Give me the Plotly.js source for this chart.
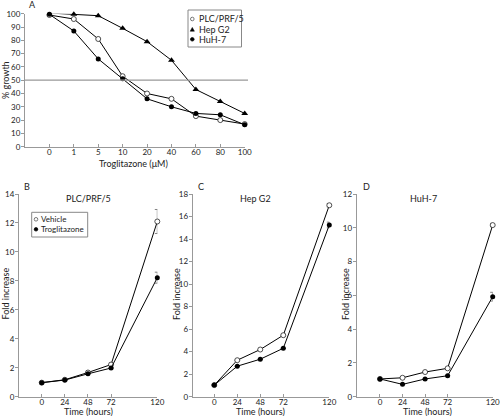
<!DOCTYPE html>
<html><head><meta charset="utf-8">
<script src="https://cdn.plot.ly/plotly-3.0.1.min.js"></script>
<style>body{margin:0;padding:0;background:#fff}#chart{width:500px;height:416px}</style>
</head><body><div id="chart"></div>
<script>
// Panel A: dose response
const doseLabels = ['0','1','5','10','20','40','60','80','100'];
const plcGrowth  = [99, 96, 81, 53, 40, 36, 23, 20, 17];
const hepGrowth  = [100.5, 99.5, 98.5, 89, 79, 65, 43, 34, 25];
const huhGrowth  = [99.5, 87, 66, 51, 36, 30, 25, 24, 16.5];
const halfLine = 50;
const legendA = ['PLC/PRF/5', 'Hep G2', 'HuH-7'];

// Panels B-D: time course
const hours = [0, 24, 48, 72, 120];
const plcVehicle = [0.97, 1.17, 1.67, 2.22, 12.1];
const plcVehicleErr = [0, 0, 0, 0, 0.83];
const plcTrog = [0.97, 1.15, 1.58, 1.98, 8.22];
const plcTrogErr = [0, 0, 0, 0, 0.38];
const hepVehicle = [1.03, 3.24, 4.19, 5.46, 17.0];
const hepVehicleErr = [0, 0, 0, 0, 0.15];
const hepTrog = [1.03, 2.71, 3.33, 4.3, 15.25];
const hepTrogErr = [0, 0, 0, 0, 0.25];
const huhVehicle = [1.05, 1.12, 1.46, 1.68, 10.16];
const huhVehicleErr = [0, 0, 0, 0, 0.1];
const huhTrog = [1.05, 0.73, 1.05, 1.24, 5.92];
const huhTrogErr = [0, 0, 0, 0, 0.26];
const legendB = ['Vehicle', 'Troglitazone'];

const FONT = 'Lato, "Open Sans", sans-serif';
const TXT = '#222';
const AX = '#999';
const openM = {symbol:'circle', size:5, color:'#fff', line:{color:'#222', width:0.8}};
const fillM = {symbol:'circle', size:5, color:'#000'};
const triM  = {symbol:'triangle-up', size:6, color:'#000'};
const ln = {color:'#000', width:1};
const eb = arr => ({type:'data', array:arr, visible:true, color:'#666', thickness:0.8, width:2.5});

const traces = [
  {x:doseLabels, y:plcGrowth, name:legendA[0], mode:'lines+markers', line:ln, marker:openM, xaxis:'x', yaxis:'y', cliponaxis:false},
  {x:doseLabels, y:hepGrowth, name:legendA[1], mode:'lines+markers', line:ln, marker:triM, xaxis:'x', yaxis:'y', cliponaxis:false},
  {x:doseLabels, y:huhGrowth, name:legendA[2], mode:'lines+markers', line:ln, marker:fillM, xaxis:'x', yaxis:'y', cliponaxis:false},

  {x:hours, y:plcVehicle, name:legendB[0], error_y:eb(plcVehicleErr), mode:'lines+markers', line:ln, marker:openM, xaxis:'x2', yaxis:'y2', cliponaxis:false},
  {x:hours, y:plcTrog, name:legendB[1], error_y:eb(plcTrogErr), mode:'lines+markers', line:ln, marker:fillM, xaxis:'x2', yaxis:'y2', cliponaxis:false},

  {x:hours, y:hepVehicle, name:legendB[0], error_y:eb(hepVehicleErr), mode:'lines+markers', line:ln, marker:openM, xaxis:'x3', yaxis:'y3', cliponaxis:false},
  {x:hours, y:hepTrog, name:legendB[1], error_y:eb(hepTrogErr), mode:'lines+markers', line:ln, marker:fillM, xaxis:'x3', yaxis:'y3', cliponaxis:false},

  {x:hours, y:huhVehicle, name:legendB[0], error_y:eb(huhVehicleErr), mode:'lines+markers', line:ln, marker:openM, xaxis:'x4', yaxis:'y4', cliponaxis:false},
  {x:hours, y:huhTrog, name:legendB[1], error_y:eb(huhTrogErr), mode:'lines+markers', line:ln, marker:fillM, xaxis:'x4', yaxis:'y4', cliponaxis:false}
];

const W = 500, H = 416;
const px = v => v / W, py = v => (H - v) / H;
const xBase = {showline:true, linecolor:AX, linewidth:1, ticks:'inside', ticklen:3, tickcolor:AX, showgrid:false, zeroline:false, tickfont:{size:8, color:TXT}, ticklabeloverflow:'allow', ticklabelstandoff:-2};
const yBase = {showline:true, linecolor:AX, linewidth:1, ticks:'outside', ticklen:3, tickcolor:AX, showgrid:false, zeroline:false, tickfont:{size:8, color:TXT}, ticklabeloverflow:'allow', ticklabelstandoff:-1};
const timeTicks = {tickmode:'array', tickvals:hours, ticktext:hours.map(String)};

const ann = (text, x, y, opts={}) => Object.assign({text, xref:'paper', yref:'paper', x:px(x), y:py(y), xanchor:'center', yanchor:'middle', showarrow:false, font:{size:9, color:TXT}}, opts);

const shapes = [
  {type:'line', xref:'paper', yref:'y', x0:px(25), x1:px(248), y0:halfLine, y1:halfLine, line:{color:'#999', width:1.2}},
  // legend boxes
  {type:'rect', xref:'paper', yref:'paper', x0:px(188), x1:px(241.5), y0:py(10), y1:py(47), line:{color:'#888', width:1}, fillcolor:'#fff'},
  {type:'rect', xref:'paper', yref:'paper', x0:px(31.7), x1:px(87.7), y0:py(212.3), y1:py(237), line:{color:'#888', width:1}, fillcolor:'#fff'}
];
const dot = (cx, cy, r, fill, stroke) => ({type:'circle', xref:'paper', yref:'paper', x0:px(cx-r), x1:px(cx+r), y0:py(cy+r), y1:py(cy-r), fillcolor:fill, line:{color:stroke, width:0.7}});
// legend symbols
shapes.push(dot(192.3, 19, 1.8, '#fff', '#444'));
shapes.push({type:'path', xref:'paper', yref:'paper', path:`M ${px(190.2)} ${py(31.2)} L ${px(194.4)} ${py(31.2)} L ${px(192.3)} ${py(27.4)} Z`, fillcolor:'#000', line:{color:'#000', width:0.5}});
shapes.push(dot(192.3, 39.3, 1.8, '#000', '#000'));
shapes.push(dot(36, 219.3, 1.8, '#fff', '#444'));
shapes.push(dot(36, 229.3, 1.8, '#000', '#000'));

const layout = {
  width:W, height:H, autosize:false,
  margin:{l:0, r:0, t:0, b:0},
  paper_bgcolor:'#fff', plot_bgcolor:'rgba(0,0,0,0)',
  font:{family:FONT, size:8, color:TXT},
  showlegend:false,
  xaxis:{...xBase, type:'category', domain:[px(25), px(244.7)], range:[-1, 8], anchor:'y'},
  yaxis:{...yBase, domain:[py(146.7), py(13.7)], range:[0, 100], dtick:10, anchor:'x'},
  xaxis2:{...xBase, ...timeTicks, domain:[px(19), px(157.3)], range:[-23.6, 120], anchor:'y2'},
  yaxis2:{...yBase, domain:[py(396.7), py(194)], range:[0, 14], dtick:2, anchor:'x2'},
  xaxis3:{...xBase, ...timeTicks, domain:[px(192.7), px(329.3)], range:[-22.5, 120], anchor:'y3'},
  yaxis3:{...yBase, domain:[py(396.7), py(194)], range:[0, 18], dtick:2, anchor:'x3'},
  xaxis4:{...xBase, ...timeTicks, domain:[px(356.7), px(492.7)], range:[-24.8, 120], anchor:'y4'},
  yaxis4:{...yBase, domain:[py(396.7), py(194)], range:[0, 12], dtick:2, anchor:'x4'},
  shapes,
  annotations:[
    ann('A', 32, 5), ann('B', 27, 186), ann('C', 201, 186), ann('D', 366.7, 186),
    ann('PLC/PRF/5', 88, 198), ann('Hep G2', 255, 198), ann('HuH-7', 423, 198),
    ann('% growth', 5, 80, {textangle:-90}),
    ann('Troglitazone (μM)', 133, 163),
    ann('Fold increase', 4.5, 294, {textangle:-90}),
    ann('Fold increase', 176, 294, {textangle:-90}),
    ann('Fold increase', 345, 294, {textangle:-90}),
    ann('Time (hours)', 88, 411.5), ann('Time (hours)', 260, 411.5), ann('Time (hours)', 427, 411.5),
    ann(legendA[0], 196.5, 19, {xanchor:'left', font:{size:9, color:TXT}}),
    ann(legendA[1], 196.5, 29.3, {xanchor:'left', font:{size:9, color:TXT}}),
    ann(legendA[2], 196.5, 39.3, {xanchor:'left', font:{size:9, color:TXT}}),
    ann(legendB[0], 39, 219.3, {xanchor:'left', font:{size:8, color:TXT}}),
    ann(legendB[1], 39, 229.3, {xanchor:'left', font:{size:8, color:TXT}})
  ]
};

Plotly.newPlot('chart', traces, layout, {displayModeBar:false, staticPlot:true});
</script></body></html>
